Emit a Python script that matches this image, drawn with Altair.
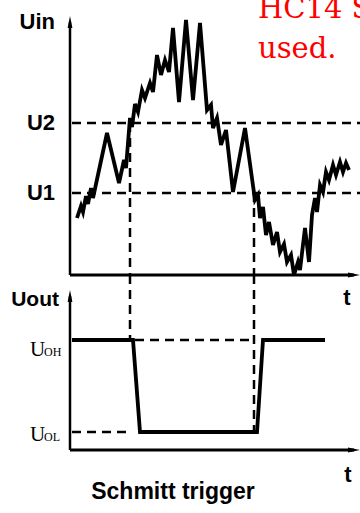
import altair as alt
import pandas as pd

# Input signal u_in(t): time in ms, voltage in V
T_IN = [0.7, 1.1, 1.3, 1.6, 1.8, 2.1, 2.3, 3.7, 4.9, 5.4, 5.6, 6.0, 6.2, 6.5, 6.8,
        7.2, 7.5, 8.0, 8.3, 8.7, 9.1, 9.5, 9.9, 10.3, 10.9, 11.6, 12.3, 13.0, 13.7,
        14.1, 14.3, 14.7, 15.1, 15.6, 16.3, 17.5, 18.5, 18.8, 19.0, 19.3, 19.6, 19.9,
        20.3, 20.7, 21.0, 21.4, 21.7, 22.1, 22.4, 22.8, 23.0, 23.5, 23.9, 24.2, 24.5,
        24.7, 25.0, 25.3, 25.6, 25.9, 26.3, 26.6, 27.0, 27.3, 27.6, 27.9]
U_IN = [1.14, 1.38, 1.26, 1.58, 1.42, 1.74, 1.54, 2.84, 1.84, 2.30, 2.14, 3.14, 2.96,
        3.42, 3.26, 3.70, 3.54, 3.84, 3.66, 4.40, 4.00, 4.30, 4.06, 4.94, 3.46, 5.10,
        3.50, 5.04, 3.30, 3.40, 2.94, 3.14, 2.60, 2.90, 1.66, 2.94, 1.50, 1.60, 1.14,
        1.36, 0.80, 1.06, 0.60, 0.86, 0.46, 0.62, 0.26, 0.40, 0.00, 0.26, 0.10, 0.94,
        0.26, 1.20, 1.54, 1.26, 1.80, 1.66, 2.06, 1.90, 2.20, 2.00, 2.26, 2.06, 2.24,
        2.10]

# Output signal u_out(t)
T_OUT = [0.2, 6.3, 7.0, 18.7, 19.3, 25.5]
U_OUT = [4.4, 4.4, 0.72, 0.72, 4.4, 4.4]

# Thresholds and output levels
U1, U2 = 1.64, 3.04
UOH, UOL = 4.4, 0.72

# Switching instants (input crosses U2 going up, U1 going down)
T_SW = [6.0, 18.4]

# Axis extents
T_END = 28.4          # centre of the time-axis arrow head
UIN_TOP = 5.06        # centre of the u_in arrow head
UOUT_TOP = 6.16       # centre of the u_out arrow head
UOUT_JOIN = 7.0       # u_out level where the guide lines meet the upper panel

XS = alt.Scale(domain=[-7.0, 29.0], nice=False)
TOP = alt.Scale(domain=[-4.76, 5.5], nice=False)
BOT = alt.Scale(domain=[-2.52, 18.0], nice=False)

LABEL_FONT = "Liberation Sans"
SERIF = "Liberation Serif"

ARROW_UP = "M0,-1L0.4,1L-0.4,1Z"
ARROW_RIGHT = "M1,0L-1,0.4L-1,-0.4Z"
DASH = [9, 6]


def X(f):
    return alt.X(f, type="quantitative", scale=XS, axis=None)


def YT(f):
    return alt.Y(f, type="quantitative", scale=TOP, axis=None)


def YB(f):
    return alt.Y(f, type="quantitative", scale=BOT, axis=None)


def label(df, y, size=23, align="right", dx=0):
    return (alt.Chart(df)
            .mark_text(font=LABEL_FONT, fontWeight="bold", fontSize=size, align=align,
                       baseline="middle", dx=dx, color="black")
            .encode(x=X("t"), y=y("u"), text="s:N"))


uin = pd.DataFrame({"t": T_IN, "u": U_IN, "i": range(len(T_IN))})
uout = pd.DataFrame({"t": T_OUT, "u": U_OUT, "i": range(len(T_OUT))})

layers = []

# ---- upper panel: u_in ----
layers.append(alt.Chart(pd.DataFrame({"t": [0.0], "u": [0.0], "u2": [UIN_TOP]}))
              .mark_rule(color="black", strokeWidth=2.5)
              .encode(x=X("t"), y=YT("u"), y2=alt.Y2("u2")))
layers.append(alt.Chart(pd.DataFrame({"t": [0.0], "t2": [T_END], "u": [0.0]}))
              .mark_rule(color="black", strokeWidth=3)
              .encode(x=X("t"), x2=alt.X2("t2"), y=YT("u")))
layers.append(alt.Chart(pd.DataFrame({"t": [0.0], "u": [UIN_TOP]}))
              .mark_point(shape=ARROW_UP, size=144, filled=True, color="black", opacity=1)
              .encode(x=X("t"), y=YT("u")))
layers.append(alt.Chart(pd.DataFrame({"t": [T_END], "u": [0.0]}))
              .mark_point(shape=ARROW_RIGHT, size=144, filled=True, color="black", opacity=1)
              .encode(x=X("t"), y=YT("u")))

# threshold lines U1, U2
thr = pd.DataFrame({"t": [0.2, 0.2], "t2": [29.0, 29.0], "u": [U1, U2], "s": ["U1", "U2"]})
layers.append(alt.Chart(thr)
              .mark_rule(color="black", strokeWidth=2.5, strokeDash=DASH)
              .encode(x=X("t"), x2=alt.X2("t2"), y=YT("u")))
layers.append(alt.Chart(thr)
              .mark_text(font=LABEL_FONT, fontWeight="bold", fontSize=22, align="right",
                         baseline="middle", dx=-15, color="black")
              .encode(x=alt.X("z:Q", scale=XS, axis=None), y=YT("u"), text="s:N")
              .transform_calculate(z="0"))

# guide lines from the threshold crossings down to the time axis
guide_top = pd.DataFrame({"t": T_SW, "u": [U2, U1], "u0": [0.0, 0.0]})
layers.append(alt.Chart(guide_top)
              .mark_rule(color="black", strokeWidth=2.5, strokeDash=DASH)
              .encode(x=X("t"), y=YT("u"), y2=alt.Y2("u0")))

# input waveform
layers.append(alt.Chart(uin)
              .mark_line(color="black", strokeWidth=3.8, strokeJoin="miter")
              .encode(x=X("t"), y=YT("u"), order="i:Q"))

# labels of the upper panel
layers.append(label(pd.DataFrame({"t": [0.0], "u": [UIN_TOP], "s": ["Uin"]}), YT, 22, "right", -15))
layers.append(label(pd.DataFrame({"t": [27.7], "u": [-0.46], "s": ["t"]}), YT, 22, "center"))

# note in red at the top right
layers.append(alt.Chart(pd.DataFrame({"t": [18.8], "u": [5.14], "s": ["HC14 Schmitt trigger\nused."]}))
              .mark_text(font="DejaVu Serif", fontSize=29, align="left", baseline="alphabetic",
                         lineBreak="\n", lineHeight=40, color="#ff0000")
              .encode(x=X("t"), y=YT("u"), text="s:N"))

# ---- lower panel: u_out ----
layers.append(alt.Chart(pd.DataFrame({"t": [0.0], "u": [0.0], "u2": [UOUT_TOP]}))
              .mark_rule(color="black", strokeWidth=2.5)
              .encode(x=X("t"), y=YB("u"), y2=alt.Y2("u2")))
layers.append(alt.Chart(pd.DataFrame({"t": [0.0], "t2": [T_END], "u": [0.0]}))
              .mark_rule(color="black", strokeWidth=3)
              .encode(x=X("t"), x2=alt.X2("t2"), y=YB("u")))
layers.append(alt.Chart(pd.DataFrame({"t": [0.0], "u": [UOUT_TOP]}))
              .mark_point(shape=ARROW_UP, size=144, filled=True, color="black", opacity=1)
              .encode(x=X("t"), y=YB("u")))
layers.append(alt.Chart(pd.DataFrame({"t": [T_END], "u": [0.0]}))
              .mark_point(shape=ARROW_RIGHT, size=144, filled=True, color="black", opacity=1)
              .encode(x=X("t"), y=YB("u")))

# guide lines continuing down to the output edges
guide_bot = pd.DataFrame({"t": T_SW, "u": [UOUT_JOIN, UOUT_JOIN], "u0": [UOH, UOL]})
layers.append(alt.Chart(guide_bot)
              .mark_rule(color="black", strokeWidth=2.5, strokeDash=DASH)
              .encode(x=X("t"), y=YB("u"), y2=alt.Y2("u0")))

# dashed level markers for U_OH and U_OL
lev = pd.DataFrame({"t": [6.5, 0.2], "t2": [18.4, 6.2], "u": [UOH, UOL]})
layers.append(alt.Chart(lev)
              .mark_rule(color="black", strokeWidth=2.5, strokeDash=DASH)
              .encode(x=X("t"), x2=alt.X2("t2"), y=YB("u")))

# output waveform
layers.append(alt.Chart(uout)
              .mark_line(color="black", strokeWidth=3.8, strokeJoin="miter")
              .encode(x=X("t"), y=YB("u"), order="i:Q"))

# level labels U_OH / U_OL (letter U plus small subscript)
lvl = pd.DataFrame({"t": [0.0, 0.0], "u": [UOH - 0.64, UOL - 0.36],
                    "main": ["U", "U"], "sub": ["OH", "OL"]})
layers.append(alt.Chart(lvl)
              .mark_text(font=SERIF, fontSize=21, align="left", baseline="alphabetic",
                         dx=-40, color="black")
              .encode(x=X("t"), y=YB("u"), text="main:N"))
layers.append(alt.Chart(lvl)
              .mark_text(font=SERIF, fontSize=12, align="left", baseline="alphabetic",
                         dx=-26, color="black")
              .encode(x=X("t"), y=YB("u"), text="sub:N"))

layers.append(label(pd.DataFrame({"t": [0.0], "u": [6.0], "s": ["Uout"]}), YB, 21, "right", -11))
layers.append(label(pd.DataFrame({"t": [27.8], "u": [-1.0], "s": ["t"]}), YB, 22, "center"))
layers.append(label(pd.DataFrame({"t": [10.3], "u": [-1.68], "s": ["Schmitt trigger"]}), YB, 23, "center"))

chart = (alt.layer(*layers)
         .resolve_scale(y="independent")
         .properties(width=360, height=513, padding=0, background="white",
                     autosize=alt.AutoSizeParams(type="none"))
         .configure_view(stroke=None))

chart.save("out.html", embed_options={"renderer": "svg", "actions": False})
